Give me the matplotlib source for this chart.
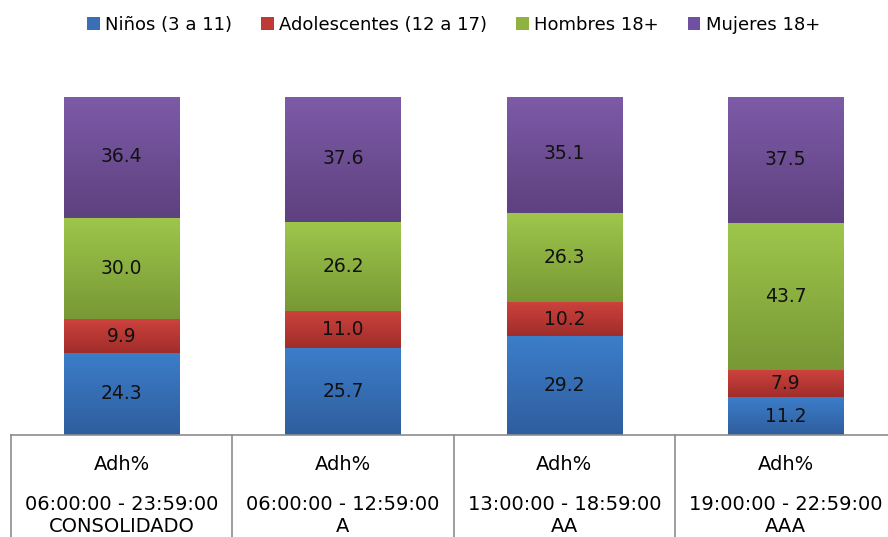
import numpy as np
import matplotlib.pyplot as plt
from matplotlib.colors import LinearSegmentedColormap
from matplotlib.patches import Patch

categories = ['06:00:00 - 23:59:00\nCONSOLIDADO', '06:00:00 - 12:59:00\nA',
              '13:00:00 - 18:59:00\nAA', '19:00:00 - 22:59:00\nAAA']
series = ['Niños (3 a 11)', 'Adolescentes (12 a 17)', 'Hombres 18+', 'Mujeres 18+']
ninos = [24.3, 25.7, 29.2, 11.2]
adolescentes = [9.9, 11.0, 10.2, 7.9]
hombres = [30.0, 26.2, 26.3, 43.7]
mujeres = [36.4, 37.6, 35.1, 37.5]
values = [ninos, adolescentes, hombres, mujeres]

# top color, bottom color, legend color
colors = [('#3c7dc9', '#2f5e9e', '#3a6fb5'),
          ('#cd423d', '#a02d2a', '#be3a35'),
          ('#9ec64b', '#789835', '#8fb241'),
          ('#7d5ba8', '#5e417f', '#7050a0')]

W, H = 888, 537
fig = plt.figure(figsize=(W / 100, H / 100), dpi=100)
col_w = 221.3
left_px, bot_px, top_px = 11, 435, 97
ax = fig.add_axes([left_px / W, 1 - bot_px / H, 4 * col_w / W, (bot_px - top_px) / H])

bw = 0.52
x = np.arange(len(categories))
bottom = np.zeros(len(categories))
for vals, (ctop, cbot, _) in zip(values, colors):
    cmap = LinearSegmentedColormap.from_list('g', [cbot, ctop])
    grad = np.linspace(1, 0, 64).reshape(-1, 1)
    for i in x:
        b, v = bottom[i], vals[i]
        ax.imshow(grad, cmap=cmap, aspect='auto', interpolation='bilinear',
                  extent=[i - bw / 2, i + bw / 2, b, b + v], zorder=2)
        ax.text(i, b + v / 2, f'{v:.1f}', ha='center', va='center',
                fontsize=13.5, color='#111111', zorder=3)
    bottom += np.array(vals)

ax.set_xlim(-0.5, len(categories) - 0.5)
ax.set_ylim(0, 100)
ax.axis('off')

# category table below the plot
line_kw = dict(color='#8c8c8c', lw=1.2, transform=fig.transFigure)
fig.add_artist(plt.Line2D([left_px / W, 1], [1 - bot_px / H] * 2, **line_kw))
for i in range(5):
    xf = (left_px + i * col_w) / W
    fig.add_artist(plt.Line2D([xf, xf], [0, 1 - bot_px / H], **line_kw))
for i, cat in enumerate(categories):
    xf = (left_px + (i + 0.5) * col_w) / W
    t1, t2 = cat.split('\n')
    fig.text(xf, 1 - 465 / H, 'Adh%', ha='center', va='center', fontsize=14)
    fig.text(xf, 1 - 504 / H, t1, ha='center', va='center', fontsize=14)
    fig.text(xf, 1 - 527 / H, t2, ha='center', va='center', fontsize=14)

handles = [Patch(facecolor=c[2], edgecolor='none') for c in colors]
fig.legend(handles, series, loc='center', bbox_to_anchor=(0.511, 1 - 25 / H), ncol=4,
           frameon=False, fontsize=13, handlelength=0.7, handleheight=0.7,
           handletextpad=0.3, columnspacing=1.6)

fig.savefig('out.png', dpi=100)
